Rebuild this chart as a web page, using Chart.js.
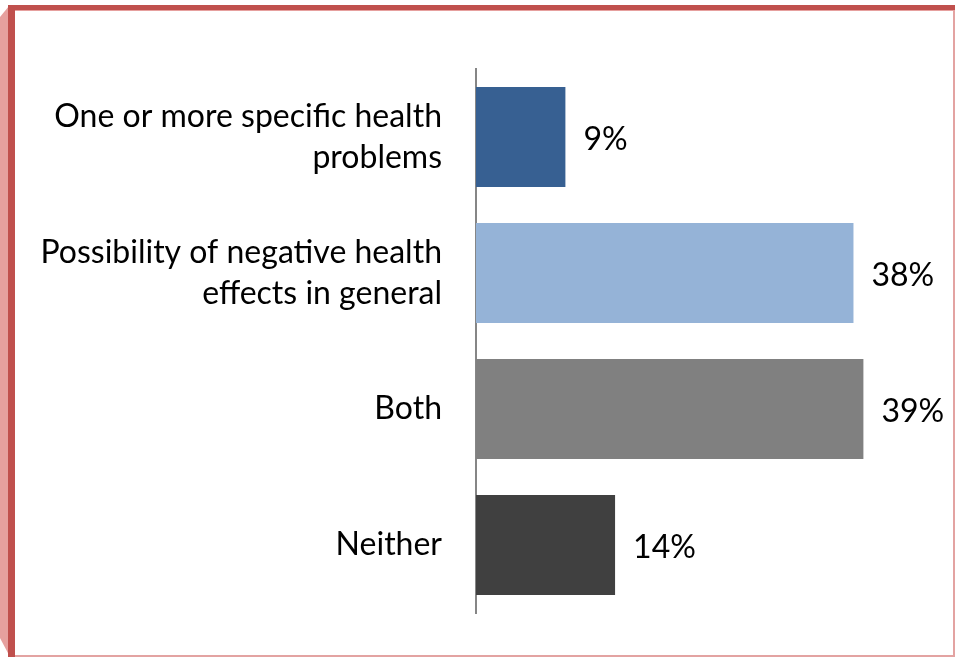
<!DOCTYPE html>
<html>
<head>
<meta charset="utf-8">
<script src="https://cdn.jsdelivr.net/npm/chart.js@4/dist/chart.umd.min.js"></script>
<style>
  html, body { margin: 0; padding: 0; background: #ffffff; }
  #wrap { position: relative; width: 955px; height: 657px; }
</style>
</head>
<body>
<div id="wrap"><canvas id="c" width="955" height="657"></canvas></div>
<script>
// Survey categories (multi-line labels) and their shares in percent
const categories = [
  ["One or more specific health", "problems"],
  ["Possibility of negative health", "effects in general"],
  "Both",
  "Neither"
];
const shares = [9, 38, 39, 14];
const barColors = ["#376092", "#95B3D7", "#808080", "#404040"];

const FONT = "Lato, 'Open Sans', sans-serif";

// Red framed panel around the chart
const framePlugin = {
  id: "frame",
  beforeDraw(chart) {
    const ctx = chart.ctx;
    const W = chart.width, H = chart.height;
    ctx.save();
    // light side band on the left
    ctx.fillStyle = "#E6A09E";
    ctx.beginPath();
    ctx.moveTo(0, 17);
    ctx.lineTo(9, 6);
    ctx.lineTo(9, 655);
    ctx.lineTo(0, 638);
    ctx.closePath();
    ctx.fill();
    // bottom and right thin edges
    ctx.fillStyle = "#E3A3A2";
    ctx.fillRect(14, H - 2, W - 14, 2);
    ctx.fillRect(W - 2, 10, 2, H - 10);
    // main red frame: top and left bars
    ctx.fillStyle = "#C0504D";
    ctx.fillRect(9, 5, W - 9, 5);
    ctx.fillRect(8, 5, 7, H - 5);
    ctx.fillStyle = "#E6A09E";
    ctx.fillRect(15, 10, W - 15, 1);
    ctx.restore();
  }
};

// Percentage text just past the end of each bar
const valueLabelPlugin = {
  id: "valueLabels",
  afterDatasetsDraw(chart) {
    const ctx = chart.ctx;
    const meta = chart.getDatasetMeta(0);
    ctx.save();
    ctx.font = "32px " + FONT;
    ctx.fillStyle = "#000000";
    ctx.textAlign = "left";
    ctx.textBaseline = "middle";
    meta.data.forEach((bar, i) => {
      const v = chart.data.datasets[0].data[i];
      ctx.fillText(v + "%", bar.x + 18, bar.y + 3);
    });
    ctx.restore();
  }
};

new Chart(document.getElementById("c"), {
  type: "bar",
  data: {
    labels: categories,
    datasets: [{
      data: shares,
      backgroundColor: barColors,
      borderWidth: 0,
      categoryPercentage: 1.0,
      barPercentage: 0.735
    }]
  },
  options: {
    indexAxis: "y",
    responsive: false,
    animation: false,
    layout: { padding: { top: 69, bottom: 44, left: 0, right: 32 } },
    plugins: {
      legend: { display: false },
      tooltip: { enabled: false }
    },
    scales: {
      x: {
        display: false,
        min: 0,
        max: 45
      },
      y: {
        position: "left",
        grid: { display: false, drawTicks: false },
        border: { display: true, color: "#868686", width: 2 },
        ticks: {
          color: "#000000",
          padding: 34,
          font: { family: FONT, size: 32, lineHeight: 1.28 }
        },
        afterFit(scale) {
          scale.width = 476;
          scale.paddingTop = 0;
          scale.paddingBottom = 0;
        }
      }
    }
  },
  plugins: [framePlugin, valueLabelPlugin]
});
</script>
</body>
</html>
